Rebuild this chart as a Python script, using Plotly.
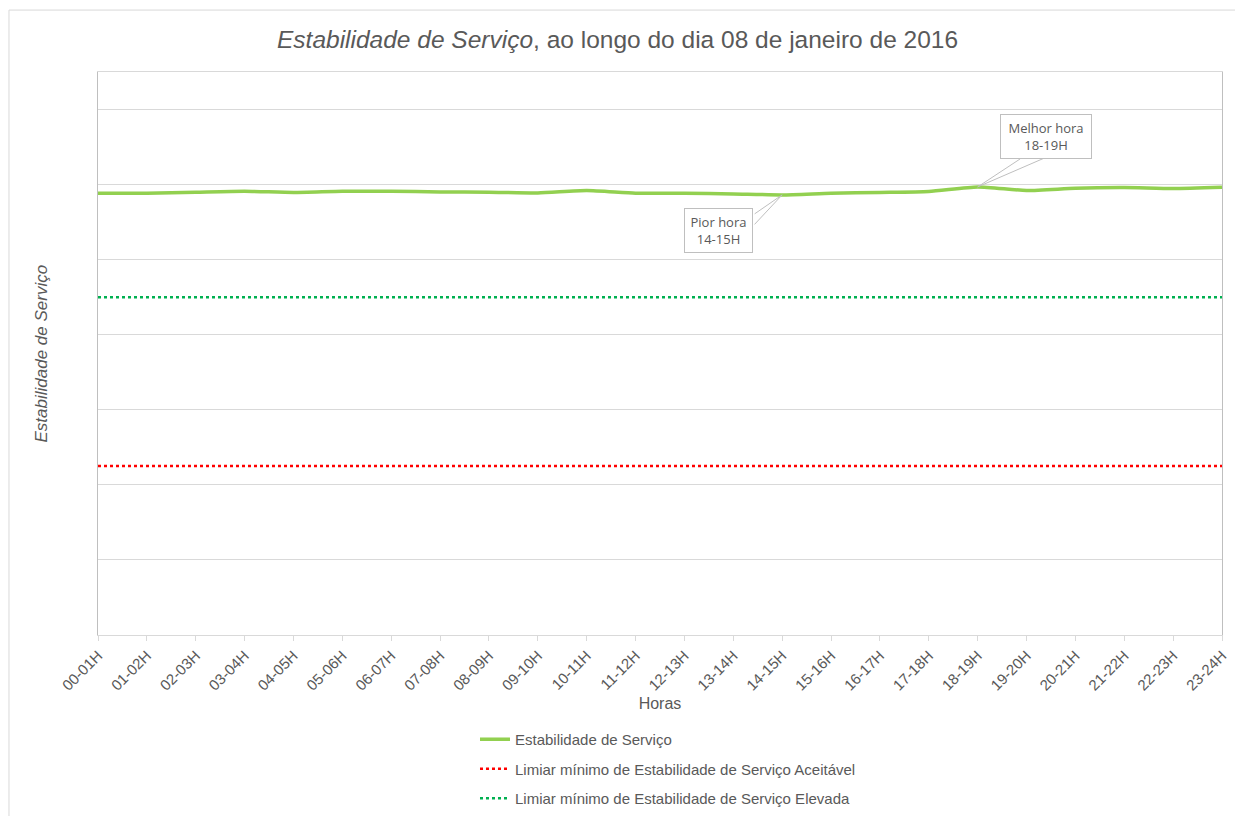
import plotly.graph_objects as go

horas = ["00-01H", "01-02H", "02-03H", "03-04H", "04-05H", "05-06H", "06-07H", "07-08H",
         "08-09H", "09-10H", "10-11H", "11-12H", "12-13H", "13-14H", "14-15H", "15-16H",
         "16-17H", "17-18H", "18-19H", "19-20H", "20-21H", "21-22H", "22-23H", "23-24H"]
estabilidade = [5.885, 5.885, 5.899, 5.912, 5.895, 5.912, 5.912, 5.903,
                5.899, 5.889, 5.921, 5.885, 5.885, 5.876, 5.863, 5.885,
                5.895, 5.908, 5.969, 5.921, 5.952, 5.961, 5.948, 5.965]
limiar_aceitavel = [2.25] * len(horas)
limiar_elevada = [4.5] * len(horas)

serie_nome = "Estabilidade de Serviço"
aceitavel_nome = "Limiar mínimo de Estabilidade de Serviço Aceitável"
elevada_nome = "Limiar mínimo de Estabilidade de Serviço Elevada"

GRAY = "#595959"
FONT = "Liberation Sans, Arial, sans-serif"
CALLOUT_LINE = "#bfbfbf"

fig = go.Figure()
fig.add_trace(go.Scatter(x=horas, y=estabilidade, mode="lines", name=serie_nome,
                         line=dict(color="#92d050", width=3.5, shape="spline", smoothing=0.6),
                         legendgroup="a"))
fig.add_trace(go.Scatter(x=horas, y=limiar_aceitavel, mode="lines", name=aceitavel_nome,
                         line=dict(color="#ff0000", width=2.5, dash="dot"), legendgroup="b"))
fig.add_trace(go.Scatter(x=horas, y=limiar_elevada, mode="lines", name=elevada_nome,
                         line=dict(color="#00b050", width=2.5, dash="dot"), legendgroup="c"))

pior = horas.index("14-15H")
melhor = horas.index("18-19H")

# callout wedges (two thin leader lines each), then the boxed labels
for idx, offsets in ((melhor, [(44, -29), (67, -29)]), (pior, [(-29, 20), (-29, 31)])):
    for ax, ay in offsets:
        fig.add_annotation(x=horas[idx], y=estabilidade[idx], text="", showarrow=True,
                           arrowhead=0, arrowwidth=1, arrowcolor=CALLOUT_LINE,
                           ax=ax, ay=ay, standoff=0, startstandoff=0)

fig.add_annotation(x=horas[melhor], y=estabilidade[melhor], text="Melhor hora<br>18-19H",
                   showarrow=True, arrowhead=0, arrowwidth=1, arrowcolor="rgba(0,0,0,0)",
                   ax=68, ay=-50, bordercolor=CALLOUT_LINE, borderwidth=1, borderpad=4,
                   bgcolor="white", width=82,
                   font=dict(family="Open Sans, sans-serif", size=13, color=GRAY))
fig.add_annotation(x=horas[pior], y=estabilidade[pior], text="Pior hora<br>14-15H",
                   showarrow=True, arrowhead=0, arrowwidth=1, arrowcolor="rgba(0,0,0,0)",
                   ax=-64, ay=36, bordercolor=CALLOUT_LINE, borderwidth=1, borderpad=4,
                   bgcolor="white", width=59,
                   font=dict(family="Open Sans, sans-serif", size=13, color=GRAY))

fig.add_annotation(xref="paper", yref="paper", x=-0.0507, y=0.5, xanchor="center", yanchor="middle",
                   text="<i>Estabilidade de Serviço</i>",
                   textangle=-90, showarrow=False, font=dict(family=FONT, size=17, color=GRAY))

# outer chart border
fig.add_shape(type="rect", xref="paper", yref="paper", x0=-0.0792, x1=1.05, y0=-0.35, y1=1.110,
              line=dict(color="#d9d9d9", width=1), fillcolor="rgba(0,0,0,0)", layer="below")

fig.update_layout(
    width=1243, height=816,
    margin=dict(l=90, r=29, t=64, b=189, autoexpand=False),
    paper_bgcolor="white", plot_bgcolor="white",
    title=dict(text="<i>Estabilidade de Serviço</i>, ao longo do dia 08 de janeiro de 2016",
               x=0.4904, xanchor="center", y=0.961, yanchor="middle",
               font=dict(family=FONT, size=24.5, color=GRAY)),
    font=dict(family=FONT, color=GRAY),
    xaxis=dict(type="category", categoryorder="array", categoryarray=horas,
               range=[0, len(horas) - 1], tickangle=-45, ticks="outside", ticklen=5,
               tickcolor="#d9d9d9", showgrid=False, showline=True, linecolor="#d9d9d9",
               mirror=True, tickfont=dict(family=FONT, size=15, color=GRAY),
               title=dict(text="Horas", font=dict(family=FONT, size=16, color=GRAY), standoff=5)),
    yaxis=dict(range=[0, 7.5], dtick=1, showticklabels=False, showgrid=True,
               gridcolor="#d9d9d9", gridwidth=1, zeroline=False, showline=True,
               linecolor="#bfbfbf", mirror=True, linewidth=1),
    legend=dict(orientation="v", xref="container", yref="container", x=0.3757, y=0.1238,
                xanchor="left", yanchor="top",
                font=dict(family=FONT, size=15, color=GRAY), tracegroupgap=7,
                bgcolor="rgba(0,0,0,0)"),
    showlegend=True,
)

fig.write_html("out.html")
